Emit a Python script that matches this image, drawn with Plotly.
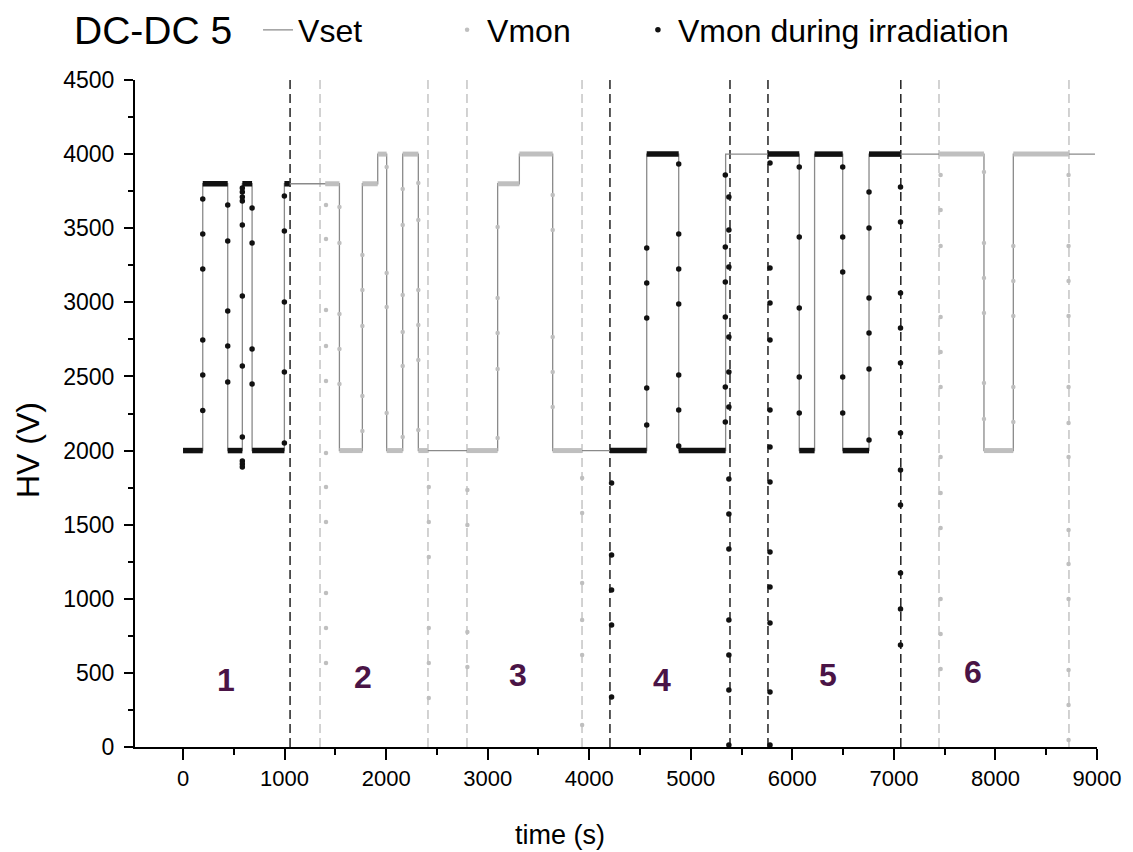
import plotly.graph_objects as go

# ---------------- data ----------------
# HV set value (step line)
vset_time = [0, 194, 440, 584, 680, 998, 1540, 1766, 1917, 2005, 2163, 2317, 3098,
             3312, 3640, 4566, 4881, 5343, 6068, 6219, 6496, 6755, 7887, 8176, 8980]
vset_hv = [2000, 3800, 2000, 3800, 2000, 3800, 2000, 3800, 4000, 2000, 4000, 2000, 3800,
           4000, 2000, 4000, 2000, 4000, 2000, 4000, 2000, 4000, 2000, 4000, 4000]

# Vmon (no beam): dense plateaus
mon_plat_start = [1400, 1540, 1766, 1917, 2005, 2163, 2317, 2796, 3098, 3312, 3640, 7444, 7887, 8176]
mon_plat_end = [1540, 1766, 1917, 2005, 2163, 2317, 2410, 3098, 3312, 3640, 3929, 7887, 8176, 8724]
mon_plat_hv = [3800, 2000, 3800, 4000, 2000, 4000, 2000, 2000, 3800, 4000, 2000, 4000, 2000, 4000]
# Vmon (no beam): isolated samples during ramps
mon_ramp_time = [1408, 1540, 1766, 2005, 2163, 2317, 2420, 2800, 3098, 3640, 3930, 7460, 7887, 8176, 8720]
mon_ramp_hv = [
    [3657, 3427, 2948, 2705, 2469, 1984, 1754, 1518, 1039, 803, 567],
    [3643, 3400, 2921, 2685, 2449],
    [3319, 3083, 2840, 2368, 2132],
    [3913, 3198, 2969, 2253],
    [3765, 3522, 3050, 2800, 2570, 2091],
    [3805, 3556, 3083, 2847, 2611, 2139],
    [1754, 1518, 1282, 803, 567, 331],
    [1734, 1498, 776, 540],
    [3508, 3029, 2793, 2550, 2085],
    [3724, 3488, 2766, 2530, 2294],
    [1815, 1579, 1106, 857, 621, 148],
    [3859, 3623, 3380, 2901, 2665, 2429, 1957, 1714, 1478, 998, 762, 526],
    [3879, 3400, 3164, 2928, 2456, 2213],
    [3380, 3144, 2908, 2429, 2193],
    [3859, 3380, 3144, 2908, 2429, 2186, 1957, 1464, 1235, 998, 519, 283, 47],
]

# Vmon during irradiation: dense plateaus
irr_plat_start = [0, 194, 440, 584, 680, 998, 4204, 4566, 4881, 5760, 6068, 6219, 6496, 6755]
irr_plat_end = [194, 440, 584, 680, 998, 1050, 4566, 4881, 5343, 6068, 6219, 6496, 6755, 7065]
irr_plat_hv = [2000, 3800, 2000, 3800, 2000, 3800, 2000, 4000, 2000, 4000, 2000, 4000, 2000, 4000]
# Vmon during irradiation: isolated samples during ramps
irr_ramp_time = [194, 440, 584, 680, 998, 4220, 4566, 4881, 5340, 5375, 5780, 6068, 6496, 6755, 7065]
irr_ramp_hv = [
    [3697, 3461, 3225, 2746, 2509, 2270],
    [3657, 3414, 2942, 2705, 2463],
    [3771, 3744, 3711, 3684, 3522, 3043, 2571, 2091, 1930, 1909, 1889],
    [3637, 3400, 2685, 2449],
    [3718, 3481, 3002, 2530, 2051],
    [1781, 1295, 1059, 823, 337],
    [3367, 3130, 2894, 2422, 2172],
    [3933, 3461, 3225, 2989, 2510, 2274, 2031],
    [3859, 3373, 3137, 2901, 2429, 2193],
    [3711, 3488, 3238, 2766, 2530, 2294, 1808, 1572, 1336, 857, 621, 385, 13],
    [3940, 3232, 2996, 2746, 2274, 2024, 1788, 1316, 1079, 837, 371, 13],
    [3913, 3441, 2962, 2496, 2253],
    [3913, 3441, 3205, 2496, 2253],
    [3744, 3502, 3029, 2793, 2550, 2071],
    [3778, 3542, 3063, 2827, 2591, 2118, 1869, 1633, 1174, 931, 688],
]

# vertical dashed markers (beam on / off times)
dashed_black_time = [1054, 4204, 5386, 5760, 7068]
dashed_gray_time = [1349, 2412, 2796, 3929, 7444, 8724]

# period labels
period_labels = ["1", "2", "3", "4", "5", "6"]
period_time = [423, 1772, 3299, 4716, 6351, 7779]
period_hv = [452, 472, 486, 452, 486, 506]

x_ticks = [0, 1000, 2000, 3000, 4000, 5000, 6000, 7000, 8000, 9000]
y_ticks = [0, 500, 1000, 1500, 2000, 2500, 3000, 3500, 4000, 4500]

# ---------------- helpers ----------------
def plateau_xy(starts, ends, levels):
    xs, ys = [], []
    for s, e, v in zip(starts, ends, levels):
        xs += [s, e, None]
        ys += [v, v, None]
    return xs, ys


def ramp_xy(times, groups):
    xs, ys = [], []
    for t, vals in zip(times, groups):
        xs += [t] * len(vals)
        ys += list(vals)
    return xs, ys


GRAY_DOT = "#bfbfbf"
BLACK_DOT = "#111111"
VSET_COL = "#8a8a8a"
FONT = "Liberation Sans, Arial, sans-serif"
PAD = "\u00a0"

fig = go.Figure()

fig.add_trace(go.Scatter(
    x=vset_time, y=vset_hv, mode="lines", line=dict(color=VSET_COL, width=1.3, shape="hv"),
    name="Vset" + PAD * 9, legendgroup="vset"))

mx, my = plateau_xy(mon_plat_start, mon_plat_end, mon_plat_hv)
fig.add_trace(go.Scatter(
    x=mx, y=my, mode="lines", line=dict(color=GRAY_DOT, width=5),
    showlegend=False, legendgroup="mon", hoverinfo="skip"))
rx, ry = ramp_xy(mon_ramp_time, mon_ramp_hv)
fig.add_trace(go.Scatter(
    x=rx, y=ry, mode="markers", marker=dict(color=GRAY_DOT, size=4.5),
    name="Vmon" + PAD * 7, legendgroup="mon"))

ix, iy = plateau_xy(irr_plat_start, irr_plat_end, irr_plat_hv)
fig.add_trace(go.Scatter(
    x=ix, y=iy, mode="lines", line=dict(color=BLACK_DOT, width=5.5),
    showlegend=False, legendgroup="irr", hoverinfo="skip"))
jx, jy = ramp_xy(irr_ramp_time, irr_ramp_hv)
fig.add_trace(go.Scatter(
    x=jx, y=jy, mode="markers", marker=dict(color=BLACK_DOT, size=5.5),
    name="Vmon during irradiation", legendgroup="irr"))

shapes = []
for t in dashed_black_time:
    shapes.append(dict(type="line", xref="x", yref="y", x0=t, x1=t, y0=0, y1=4500,
                       line=dict(color="#222222", width=1.5, dash="9px,5px"), layer="below"))
for t in dashed_gray_time:
    shapes.append(dict(type="line", xref="x", yref="y", x0=t, x1=t, y0=0, y1=4500,
                       line=dict(color="#c4c4c4", width=1.5, dash="9px,5px"), layer="below"))

annotations = []
for lab, t, v in zip(period_labels, period_time, period_hv):
    annotations.append(dict(x=t, y=v, xref="x", yref="y", text="<b>%s</b>" % lab,
                            showarrow=False, font=dict(family=FONT, size=32, color="#4a1446")))
# legend heading
annotations.append(dict(x=-0.0655, y=1.0735, xref="paper", yref="paper", text="DC-DC 5",
                        showarrow=False, xanchor="left", yanchor="middle",
                        font=dict(family=FONT, size=39, color="black")))
# axis titles (placed where the original has them)
annotations.append(dict(x=0.4418, y=-0.132, xref="paper", yref="paper", text="time (s)",
                        showarrow=False, xanchor="center", yanchor="middle",
                        font=dict(family=FONT, size=27, color="black")))
annotations.append(dict(x=-0.1112, y=0.4453, xref="paper", yref="paper", text="HV (V)",
                        showarrow=False, xanchor="center", yanchor="middle", textangle=-90,
                        font=dict(family=FONT, size=32, color="black")))

fig.update_layout(
    width=1125, height=844, autosize=False,
    margin=dict(l=127, r=36, t=72, b=105, autoexpand=False),
    paper_bgcolor="white", plot_bgcolor="white",
    font=dict(family=FONT, color="black"),
    shapes=shapes, annotations=annotations,
    showlegend=True,
    legend=dict(
        orientation="h", x=0.1279, xanchor="left", y=1.075, yanchor="middle",
        font=dict(size=32, family=FONT), bgcolor="rgba(0,0,0,0)",
        itemwidth=30, tracegroupgap=0,
    ),
    xaxis=dict(
        range=[-473, 9000], tickvals=x_ticks, ticktext=[str(v) for v in x_ticks],
        showline=True, linecolor="black", linewidth=2, mirror=False,
        ticks="outside", ticklen=11, tickwidth=2, tickcolor="black",
        minor=dict(dtick=500, tick0=0, ticks="outside", ticklen=6, tickwidth=2, tickcolor="black"),
        showgrid=False, zeroline=False,
        tickfont=dict(size=22, family=FONT),
    ),
    yaxis=dict(
        range=[0, 4500], tickvals=y_ticks, ticktext=[str(v) for v in y_ticks],
        showline=True, linecolor="black", linewidth=2, mirror=False,
        ticks="outside", ticklen=9, tickwidth=2, tickcolor="black",
        minor=dict(dtick=250, tick0=0, ticks="outside", ticklen=5, tickwidth=2, tickcolor="black"),
        showgrid=False, zeroline=False, ticklabelstandoff=5,
        tickfont=dict(size=23, family=FONT),
    ),
)

fig.write_html("out.html")
